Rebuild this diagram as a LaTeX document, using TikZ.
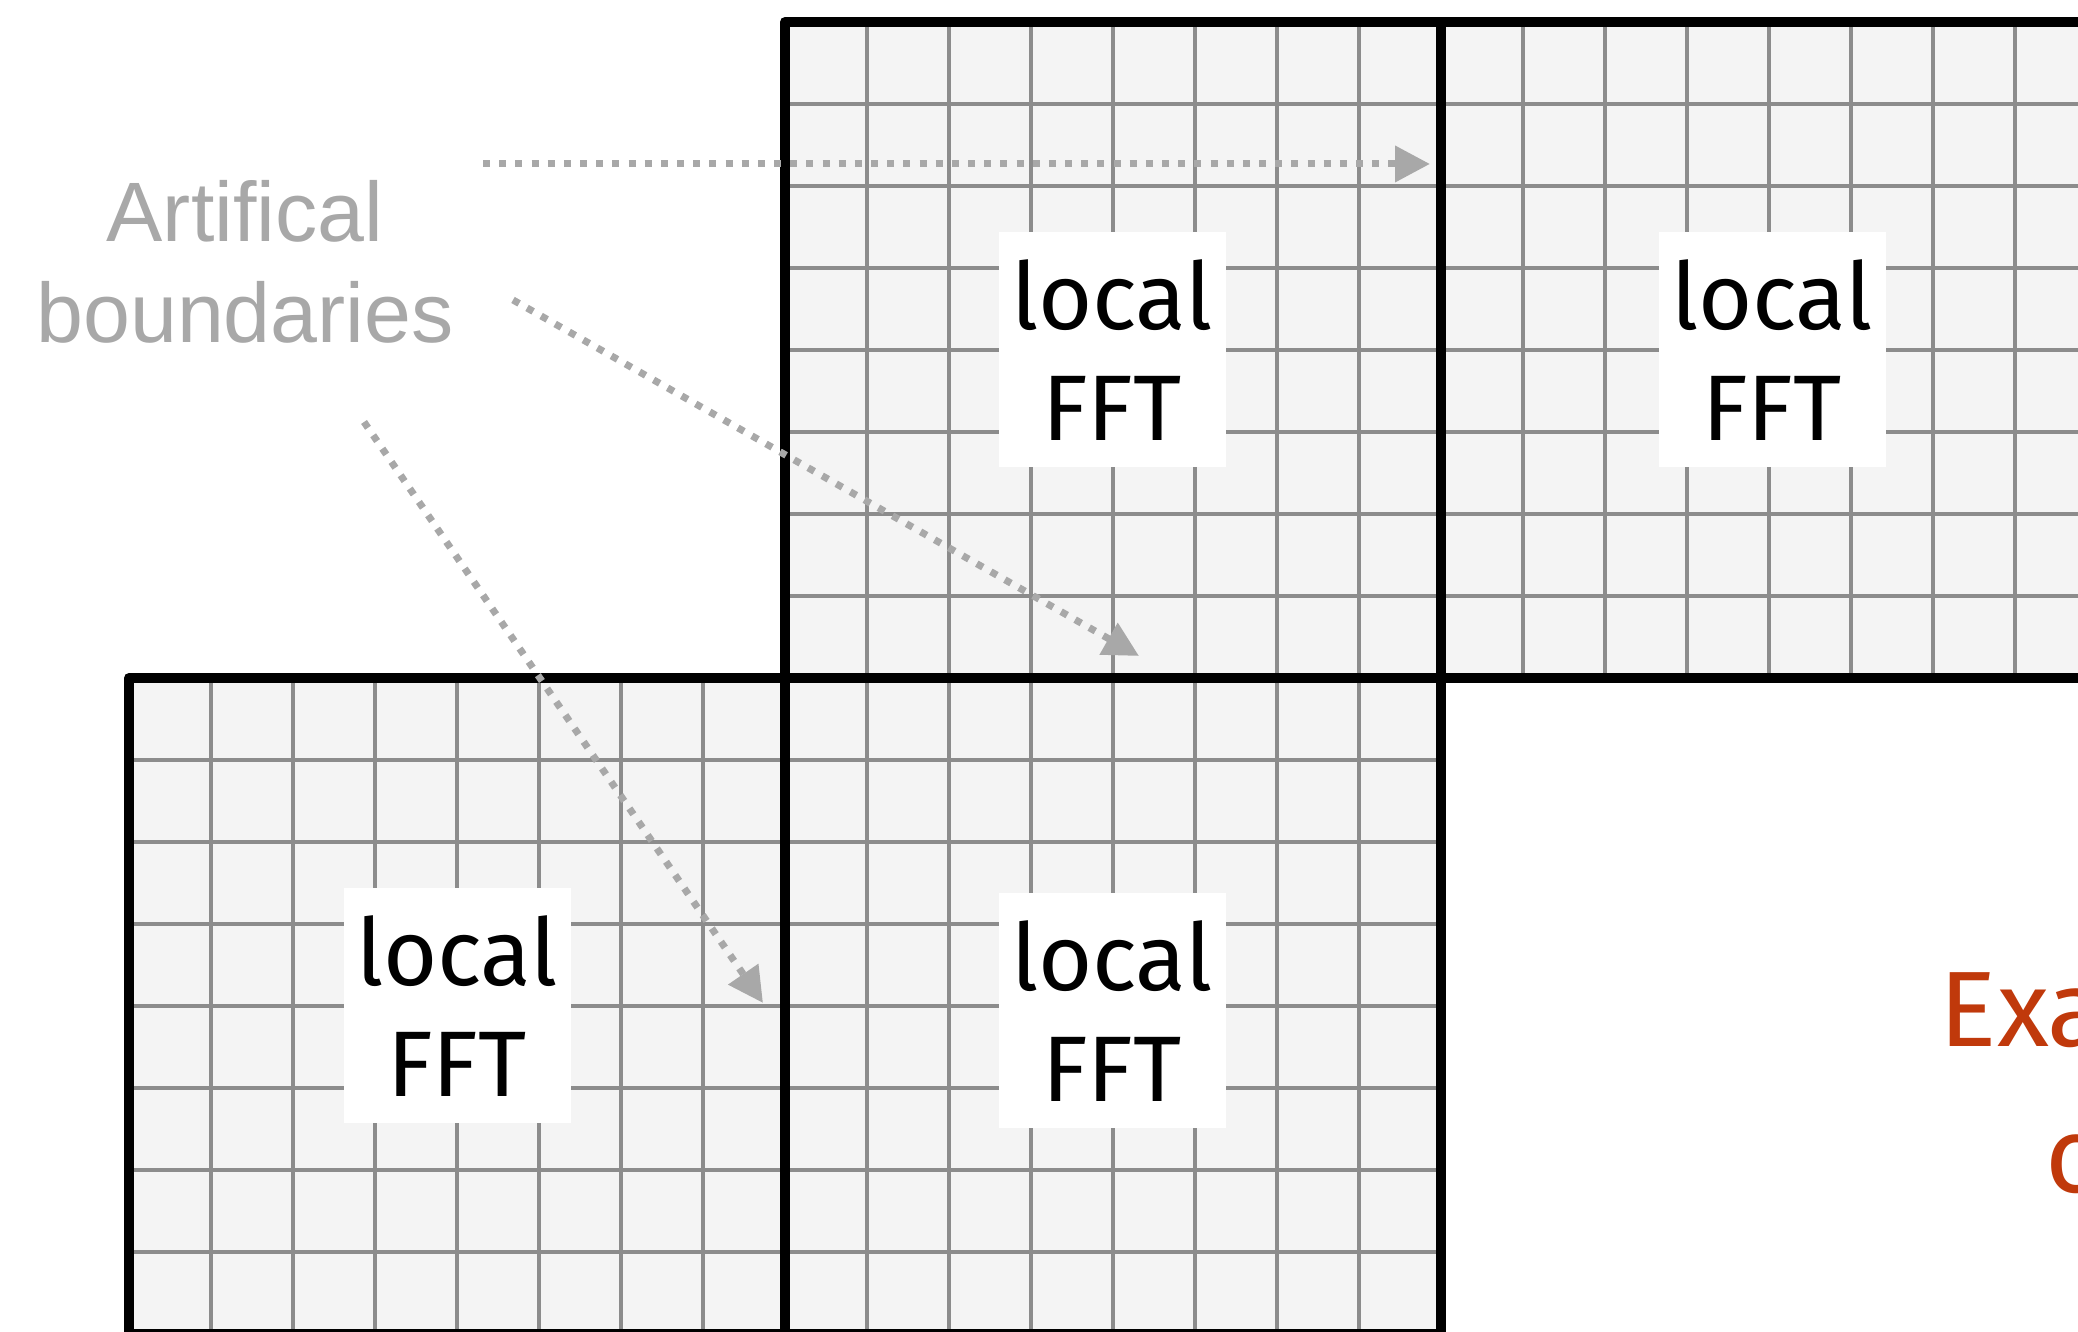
\documentclass[tikz,border=0pt]{standalone}
\usepackage{fontspec}
\usetikzlibrary{arrows.meta}
\newfontfamily\fftfont{Fira Sans}
\newfontfamily\labelfont{Liberation Sans}
\definecolor{cellfill}{HTML}{F4F4F4}
\definecolor{gridgray}{HTML}{8C8C8C}
\definecolor{arrowgray}{HTML}{A8A8A8}
\definecolor{notered}{HTML}{C0390B}
\begin{document}
\begin{tikzpicture}[x=1.0cm,y=1.0cm,
    cellline/.style={line width=0.9pt,color=gridgray},
    blockframe/.style={line width=2.9pt,line join=round},
    fftbox/.style={fill=white,inner sep=0pt,minimum width=2.27cm,minimum height=2.35cm,
      align=center,font=\fftfont\fontsize{26.5}{31.5}\selectfont},
    boundlabel/.style={inner sep=0pt,align=center,color=arrowgray,
      font=\labelfont\fontsize{24}{28.7}\selectfont},
    boundarrow/.style={color=arrowgray,line width=2pt,dash pattern=on 2pt off 2.6pt,
      -{Triangle[length=3.5mm,width=3.5mm]}},
    notetext/.style={inner sep=0pt,anchor=base west,color=notered,
      font=\fftfont\fontsize{30.5}{36}\selectfont}]
      \useasboundingbox (0,0) rectangle (20.78,13.32);
      \clip (0,0) rectangle (20.78,13.32);
      % the four sub-domains, 8x8 cells each
      \foreach \bx/\by in {7.85/6.54,14.41/6.54,1.29/-0.02,7.85/-0.02}{
        \fill[cellfill] (\bx,\by) rectangle ++(6.56,6.56);
        \foreach \i in {1,...,7}{
          \draw[cellline] ({\bx+0.82*\i},\by) -- ++(0,6.56);
          \draw[cellline] (\bx,{\by+0.82*\i}) -- ++(6.56,0);
        }
      }
      \foreach \bx/\by in {7.85/6.54,14.41/6.54,1.29/-0.02,7.85/-0.02}
        \draw[blockframe] (\bx,\by) rectangle ++(6.56,6.56);
      \node[fftbox] (fftA) at (11.12,9.82) {local\\FFT};
      \node[fftbox] (fftB) at (17.72,9.82) {local\\FFT};
      \node[fftbox] (fftC) at (4.57,3.26) {local\\FFT};
      \node[fftbox] (fftD) at (11.12,3.21) {local\\FFT};
      \node[boundlabel] (artif) at (2.45,10.70) {Artifical\\boundaries};
      \coordinate (tailA) at (4.83,11.68);
      \coordinate (tipA) at (14.30,11.68);
      \coordinate (tailB) at (5.13,10.32);
      \coordinate (tipB) at (11.39,6.76);
      \coordinate (tailC) at (3.64,9.10);
      \coordinate (tipC) at (7.63,3.29);
      \draw[boundarrow] (tailA) -- (tipA);
      \draw[boundarrow] (tailB) -- (tipB);
      \draw[boundarrow] (tailC) -- (tipC);
      % caption, cut by the right edge
      \node[notetext] (noteA) at (19.39,2.85) {Exa};
      \node[notetext] (noteB) at (20.45,1.39) {c};
    \end{tikzpicture}
\end{document}
